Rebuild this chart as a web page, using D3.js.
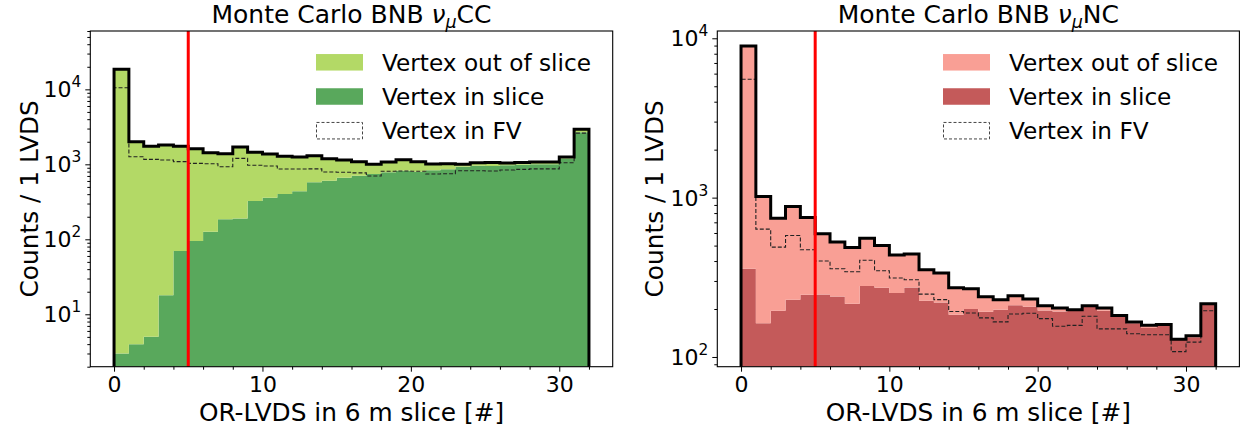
<!DOCTYPE html>
<html>
<head>
<meta charset="utf-8">
<script src="https://cdn.jsdelivr.net/npm/d3@7"></script>
<style>
  html, body { margin: 0; padding: 0; background: #fff; }
  svg { display: block; font-family: "DejaVu Sans", sans-serif; }
</style>
</head>
<body>
<svg id="chart" width="1240" height="432"></svg>
<script>
// OR-LVDS multiplicity in a 6 m slice, 1 LVDS per bin (bins 0..32)
const binEdges = d3.range(33);

// BNB numu CC
const ccInSlice  = [3, 4, 5, 18, 70, 95, 126, 185, 190, 325, 359, 402, 436, 575, 604, 662,
                    704, 743, 782, 822, 797, 831, 857, 929, 957, 950, 970, 990, 1000, 1005, 1200, 2670];
const ccOutSlice = [18497, 1996, 1735, 1792, 1670, 1515, 1304, 1195, 1510, 1120, 1011, 878, 814, 725, 586, 478,
                    381, 257, 293, 328, 288, 179, 158, 71, 93, 110, 70, 70, 75, 70, 50, 260];
const ccInFV     = [10500, 1260, 1165, 1140, 1085, 1030, 1020, 930, 1200, 970, 950, 865, 865, 870, 790, 785,
                    770, 700, 810, 815, 810, 743, 750, 822, 822, 815, 840, 857, 870, 870, 1050, 2610];

// BNB numu NC
const ncInSlice  = [358, 163, 195, 229, 246, 247, 240, 216, 279, 272, 252, 273, 225, 220, 184, 200,
                    192, 198, 211, 207, 196, 193, 195, 207, 195, 179, 163, 152, 157, 128, 133, 212];
const ncOutSlice = [8592, 852, 548, 651, 504, 346, 286, 271, 278, 229, 184, 170, 128, 116, 88, 68,
                    47, 31, 31, 24, 14, 10, 3, 3, 8, 3, 3, 6, 3, 1, 3, 4];
const ncInFV     = [5530, 634, 489, 578, 471, 400, 358, 343, 405, 348, 313, 305, 248, 229, 193, 189,
                    176, 166, 186, 188, 174, 156, 158, 180, 150, 150, 140, 138, 138, 108, 124, 195];

const cutValue = 5;
const xTicks = [0, 10, 20, 30];
const xMinorTicks = d3.range(0, 33, 2).filter(v => !xTicks.includes(v));
const ccYTicks = [1e1, 1e2, 1e3, 1e4];
const ncYTicks = [1e2, 1e3, 1e4];
const legendLabels = ["Vertex out of slice", "Vertex in slice", "Vertex in FV"];
const xLabel = "OR-LVDS in 6 m slice [#]";
const yLabel = "Counts / 1 LVDS";

const svg = d3.select("#chart");

const FS_TICK = 22, FS_LABEL = 24.8, FS_TITLE = 25, FS_LEGEND = 23.2;

function drawPanel(cfg) {
  const g = svg.append("g");
  const x = d3.scaleLinear().domain([-1.6, 33.6]).range([cfg.left, cfg.right]);
  const y = d3.scaleLog().domain(cfg.yDomain).range([cfg.bottom, cfg.top]);
  const yFloor = cfg.yDomain[0];

  const clipId = "clip-" + cfg.id;
  svg.append("clipPath").attr("id", clipId)
    .append("rect")
    .attr("x", cfg.left).attr("y", cfg.top)
    .attr("width", cfg.right - cfg.left).attr("height", cfg.bottom - cfg.top);

  const plot = g.append("g").attr("clip-path", `url(#${clipId})`);

  const total = cfg.inSlice.map((v, i) => v + cfg.outSlice[i]);

  // step points: [edge, lower, upper] for each bin
  const stepPoints = (lower, upper) => {
    const pts = [];
    for (let i = 0; i < upper.length; i++) {
      pts.push([binEdges[i], lower[i], upper[i]]);
      pts.push([binEdges[i + 1], lower[i], upper[i]]);
    }
    return pts;
  };

  const floorArr = cfg.inSlice.map(() => yFloor);
  const area = d3.area()
    .x(d => x(d[0]))
    .y0(d => y(d[1]))
    .y1(d => y(d[2]));

  plot.append("path")
    .attr("d", area(stepPoints(floorArr, cfg.inSlice)))
    .attr("fill", cfg.colorIn);
  plot.append("path")
    .attr("d", area(stepPoints(cfg.inSlice, total)))
    .attr("fill", cfg.colorOut);

  const outline = vals => {
    const pts = [[binEdges[0], yFloor * 0.5]];
    vals.forEach((v, i) => { pts.push([binEdges[i], v]); pts.push([binEdges[i + 1], v]); });
    pts.push([binEdges[binEdges.length - 1], yFloor * 0.5]);
    return d3.line().x(d => x(d[0])).y(d => y(d[1]))(pts);
  };

  plot.append("path")
    .attr("d", outline(cfg.inFV))
    .attr("fill", "none")
    .attr("stroke", "#222")
    .attr("stroke-width", 1.1)
    .attr("stroke-dasharray", "4,2");

  plot.append("path")
    .attr("d", outline(total))
    .attr("fill", "none")
    .attr("stroke", "#000")
    .attr("stroke-width", 3)
    .attr("stroke-linejoin", "miter");

  // selection cut
  plot.append("line")
    .attr("x1", x(cutValue)).attr("x2", x(cutValue))
    .attr("y1", cfg.top).attr("y2", cfg.bottom)
    .attr("stroke", "#ff0000").attr("stroke-width", 3);

  // axes box
  g.append("rect")
    .attr("x", cfg.left).attr("y", cfg.top)
    .attr("width", cfg.right - cfg.left).attr("height", cfg.bottom - cfg.top)
    .attr("fill", "none").attr("stroke", "#000").attr("stroke-width", 1.1);

  // x axis
  const xAxis = g.append("g").attr("transform", `translate(0,${cfg.bottom})`)
    .call(d3.axisBottom(x).tickValues(xTicks).tickSize(5).tickPadding(5).tickFormat(d3.format("d")));
  xAxis.select(".domain").remove();
  xAxis.selectAll("text").attr("font-size", FS_TICK).attr("fill", "#000")
    .attr("font-family", "DejaVu Sans");
  const xMinor = g.append("g").attr("transform", `translate(0,${cfg.bottom})`)
    .call(d3.axisBottom(x).tickValues(xMinorTicks).tickSize(3).tickFormat(""));
  xMinor.select(".domain").remove();

  // y axis (log): major ticks with power-of-ten labels, minor ticks from the scale
  const yAxis = g.append("g").attr("transform", `translate(${cfg.left},0)`)
    .call(d3.axisLeft(y).tickValues(cfg.yTicks).tickSize(5).tickFormat(""));
  yAxis.select(".domain").remove();
  const minor = y.ticks(40).filter(v => {
    const e = Math.log10(v);
    return Math.abs(e - Math.round(e)) > 1e-9;
  });
  const yMinor = g.append("g").attr("transform", `translate(${cfg.left},0)`)
    .call(d3.axisLeft(y).tickValues(minor).tickSize(3).tickFormat(""));
  yMinor.select(".domain").remove();

  cfg.yTicks.forEach(v => {
    const t = g.append("text")
      .attr("x", cfg.left - 9)
      .attr("y", y(v) + 8)
      .attr("text-anchor", "end")
      .attr("font-size", FS_TICK);
    t.append("tspan").text("10");
    t.append("tspan").attr("font-size", FS_TICK * 0.7).attr("dy", -10)
      .text(String(Math.round(Math.log10(v))));
  });

  g.selectAll(".tick line").attr("stroke", "#000").attr("stroke-width", 1);

  // axis labels
  g.append("text")
    .attr("x", (cfg.left + cfg.right) / 2)
    .attr("y", 421)
    .attr("text-anchor", "middle")
    .attr("font-size", FS_LABEL)
    .text(xLabel);

  g.append("text")
    .attr("transform", `translate(${cfg.yLabelX},${(cfg.top + cfg.bottom) / 2}) rotate(-90)`)
    .attr("text-anchor", "middle")
    .attr("font-size", FS_LABEL)
    .text(yLabel);

  // title
  const title = g.append("text")
    .attr("x", (cfg.left + cfg.right) / 2)
    .attr("y", 23)
    .attr("text-anchor", "middle")
    .attr("font-size", FS_TITLE);
  title.append("tspan").text("Monte Carlo BNB ");
  title.append("tspan").attr("font-style", "italic").text("\u03BD");
  title.append("tspan").attr("font-style", "italic").attr("font-size", FS_TITLE * 0.7)
    .attr("dy", 5).text("\u03BC");
  title.append("tspan").attr("dy", -5).text(cfg.channel);

  // legend
  const lg = g.append("g").attr("transform", `translate(${cfg.legendX},0)`);
  const rowY = [62.3, 96.5, 130.7];
  const handleW = 47, handleH = 16.5;
  lg.append("rect").attr("x", 0).attr("y", rowY[0] - handleH / 2)
    .attr("width", handleW).attr("height", handleH).attr("fill", cfg.colorOut);
  lg.append("rect").attr("x", 0).attr("y", rowY[1] - handleH / 2)
    .attr("width", handleW).attr("height", handleH).attr("fill", cfg.colorIn);
  lg.append("rect").attr("x", 0.5).attr("y", rowY[2] - handleH / 2)
    .attr("width", handleW - 1).attr("height", handleH).attr("fill", "none")
    .attr("stroke", "#444").attr("stroke-width", 1).attr("stroke-dasharray", "3,2");
  legendLabels.forEach((lab, i) => {
    lg.append("text")
      .attr("x", handleW + 19)
      .attr("y", rowY[i] + 8.3)
      .attr("font-size", FS_LEGEND)
      .text(lab);
  });
}

drawPanel({
  id: "cc", channel: "CC",
  left: 90.3, right: 612.7, top: 31, bottom: 366.7,
  yDomain: [2, 6e4], yTicks: ccYTicks,
  inSlice: ccInSlice, outSlice: ccOutSlice, inFV: ccInFV,
  colorIn: "#59a85c", colorOut: "#b3d966",
  legendX: 316, yLabelX: 38
});

drawPanel({
  id: "nc", channel: "NC",
  left: 717.3, right: 1239.4, top: 31, bottom: 366.7,
  yDomain: [86.9, 11110], yTicks: ncYTicks,
  inSlice: ncInSlice, outSlice: ncOutSlice, inFV: ncInFV,
  colorIn: "#c45a5a", colorOut: "#f99f95",
  legendX: 943, yLabelX: 663
});
</script>
</body>
</html>
